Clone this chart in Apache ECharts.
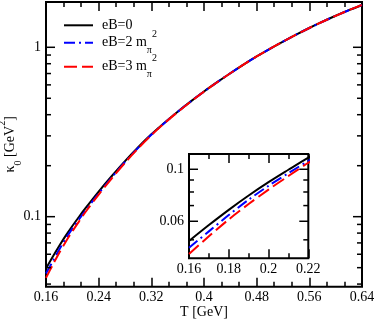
<!DOCTYPE html>
<html><head><meta charset="utf-8">
<script src="https://cdn.jsdelivr.net/npm/echarts@6/dist/echarts.min.js"></script>
<style>html,body{margin:0;padding:0;background:#fff}#c{width:374px;height:319px}</style>
</head><body><div id="c"></div>
<script>
// ---- data ----
const T = [0.16,0.17,0.18,0.19,0.20,0.21,0.22,0.24,0.26,0.28,0.30,0.32,0.34,0.36,0.38,0.40,0.42,0.44,0.46,0.48,0.50,0.52,0.54,0.56,0.58,0.60,0.62,0.64];
const kappa_eB0 = [0.04943,0.05781,0.06714,0.07727,0.08810,0.09954,0.1122,0.1406,0.1738,0.2128,0.2570,0.3062,0.3589,0.4169,0.4797,0.5483,0.6223,0.7031,0.7907,0.8831,0.9795,1.0814,1.1885,1.3002,1.4158,1.5346,1.6558,1.7783];
const kappa_eB2 = [0.04622,0.05434,0.06378,0.07418,0.08502,0.09626,0.1086,0.1371,0.1707,0.2102,0.2549,0.3047,0.3578,0.4161,0.4792,0.5480,0.6220,0.7029,0.7905,0.8829,0.9793,1.0812,1.1883,1.3000,1.4156,1.5344,1.6556,1.7781];
const kappa_eB3 = [0.04350,0.05174,0.06110,0.07109,0.08193,0.09357,0.1066,0.1350,0.1686,0.2081,0.2531,0.3031,0.3564,0.4148,0.4783,0.5472,0.6215,0.7025,0.7901,0.8826,0.9790,1.0809,1.1880,1.2998,1.4154,1.5342,1.6554,1.7779];
const seriesNames = ['eB=0','eB=2','eB=3'];
const mainYTicks = [0.04,0.05,0.06,0.07,0.08,0.09,0.1,0.2,0.3,0.4,0.5,0.6,0.7,0.8,0.9,1];
const mainYLabels = ['','','','','','','0.1','','','','','','','','','1'];
const insetYTicks = [0.05,0.06,0.07,0.08,0.09,0.1];
const insetYLabels = ['','0.06','','','','0.1'];

const FONT = 'Liberation Serif';
const MAIN = {xmin:0.16, xmax:0.64, xint:0.08, ymin:0.0386, ymax:1.851};
const INSET = {xmin:0.16, xmax:0.22, xint:0.02, ymin:0.0417, ymax:0.1162};

const rich = {
  m:{fontSize:14, fontFamily:FONT, color:'#000', lineHeight:26, verticalAlign:'middle'},
  sub:{fontSize:10, fontFamily:FONT, color:'#000', lineHeight:10, verticalAlign:'bottom'},
  sup:{fontSize:10, fontFamily:FONT, color:'#000', lineHeight:10, verticalAlign:'top'}
};
const legendText = {
  'eB=0':'{m|eB=0}',
  'eB=2':'{m|eB=2 m}{sub|π}{sup|2}',
  'eB=3':'{m|eB=3 m}{sub|π}{sup|2}'
};

function tickSeries(xIdx, yIdx, xmin, vals, labels){
  return {
    type:'custom', xAxisIndex:xIdx, yAxisIndex:yIdx, clip:false, silent:true, z:6,
    data: vals.map(v=>[xmin, v]),
    encode:{x:0, y:1},
    renderItem:function(params, api){
      const cs = params.coordSys;
      const p = api.coord([api.value(0), api.value(1)]);
      const y = p[1];
      const lab = labels[params.dataIndex];
      const len = lab ? 9 : 5;
      const ch = [
        {type:'line', shape:{x1:cs.x, y1:y, x2:cs.x+len, y2:y}, style:{stroke:'#000', lineWidth:1.5}},
        {type:'line', shape:{x1:cs.x+cs.width-len, y1:y, x2:cs.x+cs.width, y2:y}, style:{stroke:'#000', lineWidth:1.5}}
      ];
      if (lab) ch.push({type:'text', x:cs.x-5, y:y, style:{text:lab, fill:'#000', fontSize:14, fontFamily:FONT, align:'right', verticalAlign:'middle'}});
      return {type:'group', children:ch};
    }
  };
}

function xAxisDef(gi, pos, r, labels, extra){
  return Object.assign({
    type:'value', gridIndex:gi, position:pos, min:r.xmin, max:r.xmax, interval:r.xint,
    axisLine:{show:false}, splitLine:{show:false},
    axisTick:{show:true, inside:true, length:9, lineStyle:{color:'#000', width:1.5}},
    minorTick:{show:true, splitNumber: gi===0?3:2, length:5, lineStyle:{color:'#000', width:1.5}},
    axisLabel:{show:labels, color:'#000', fontSize:14, fontFamily:FONT, margin:4,
      formatter:function(v){return String(Math.round(v*100)/100);}}
  }, extra||{});
}

const styles = [
  {color:'#000000', type:'solid'},
  {color:'#0000ff', type:[11,4,2,4]},
  {color:'#ff0000', type:[13,5]}
];
const dataSets = [kappa_eB0, kappa_eB2, kappa_eB3];

const series = [];
[0,1].forEach(function(g){
  dataSets.forEach(function(d, i){
    series.push({
      name:seriesNames[i], type:'line', xAxisIndex: g===0?0:2, yAxisIndex:g,
      data:T.map((t,j)=>[t, d[j]]), showSymbol:false, symbol:'none', smooth:0.3,
      lineStyle:{color:styles[i].color, width:2, type:styles[i].type},
      itemStyle:{color:styles[i].color}, z:3+i
    });
  });
});
series.push(tickSeries(0, 0, MAIN.xmin, mainYTicks, mainYLabels));
series.push(tickSeries(2, 1, INSET.xmin, insetYTicks, insetYLabels));

function legendDef(name, top){
  return {
    data:[name], left:63, top:top, orient:'vertical', padding:0, itemWidth:29, itemHeight:10,
    selectedMode:false,
    itemStyle:{opacity:0},
    formatter:function(n){return legendText[n];},
    textStyle:{color:'#000', fontFamily:FONT, fontSize:14, padding:[0,0,0,4], rich:rich}
  };
}

const option = {
  animation:false,
  backgroundColor:'#fff',
  grid:[
    {left:46, top:2, width:316, height:284.7, show:true, borderColor:'#000', borderWidth:2, backgroundColor:'#fff', outerBoundsMode:'none'},
    {left:189, top:154, width:119.3, height:104.3, show:true, borderColor:'#000', borderWidth:2, backgroundColor:'#fff', outerBoundsMode:'none'}
  ],
  xAxis:[
    xAxisDef(0,'bottom',MAIN,true,{name:'T [GeV]', nameLocation:'middle', nameGap:19, nameMoveOverlap:false,
      nameTextStyle:{color:'#000', fontSize:14, fontFamily:FONT}}),
    xAxisDef(0,'top',MAIN,false),
    xAxisDef(1,'bottom',INSET,true),
    xAxisDef(1,'top',INSET,false)
  ],
  yAxis:[
    {type:'log', gridIndex:0, logBase:10, min:MAIN.ymin, max:MAIN.ymax,
     axisLine:{show:false}, axisTick:{show:false}, axisLabel:{show:false}, splitLine:{show:false},
     name:'{m|κ}{sub|0}{m| [GeV}{sup|2}{m|]}', nameLocation:'middle', nameGap:23, nameRotate:90, nameMoveOverlap:false,
     nameTextStyle:{rich:rich, fontFamily:FONT, fontSize:14, color:'#000'}},
    {type:'log', gridIndex:1, logBase:10, min:INSET.ymin, max:INSET.ymax,
     axisLine:{show:false}, axisTick:{show:false}, axisLabel:{show:false}, splitLine:{show:false}}
  ],
  legend:[legendDef('eB=0', 18.3), legendDef('eB=2', 29.7), legendDef('eB=3', 53.7)],
  series:series
};
const chart = echarts.init(document.getElementById('c'), null, {renderer:'canvas'});
chart.setOption(option);
</script></body></html>
